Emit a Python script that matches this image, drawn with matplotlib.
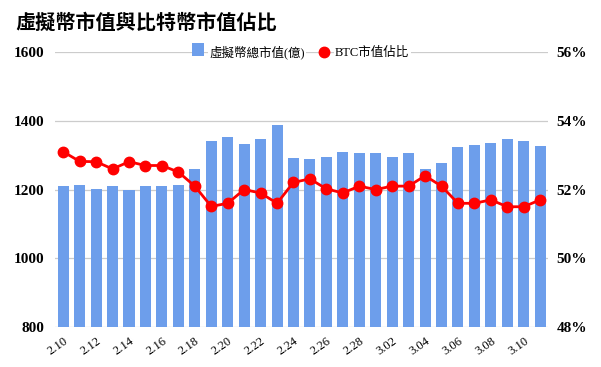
import numpy as np
import matplotlib.pyplot as plt

plt.rcParams['font.family'] = ['Noto Sans CJK TC', 'DejaVu Sans']

dates = ['2.10', '2.11', '2.12', '2.13', '2.14', '2.15', '2.16', '2.17', '2.18', '2.19',
         '2.20', '2.21', '2.22', '2.23', '2.24', '2.25', '2.26', '2.27', '2.28', '3.01',
         '3.02', '3.03', '3.04', '3.05', '3.06', '3.07', '3.08', '3.09', '3.10', '3.11']
# 虛擬幣總市值(億)
total_cap = [1209, 1212, 1203, 1209, 1200, 1209, 1209, 1212, 1261, 1340,
             1352, 1334, 1346, 1387, 1293, 1290, 1296, 1310, 1305, 1305,
             1296, 1305, 1260, 1276, 1325, 1331, 1336, 1348, 1340, 1328]
# BTC市值佔比 (%)
btc_share = [53.1, 52.82, 52.81, 52.6, 52.81, 52.7, 52.7, 52.51, 52.1, 51.51,
             51.6, 52.0, 51.9, 51.6, 52.21, 52.31, 52.02, 51.9, 52.1, 52.0,
             52.1, 52.1, 52.4, 52.1, 51.6, 51.6, 51.7, 51.5, 51.5, 51.7]

x = np.arange(len(dates))

fig = plt.figure(figsize=(6.01, 3.67), dpi=100)
ax = fig.add_axes([0.0915, 0.109, 0.821, 0.749])
ax2 = ax.twinx()

ax.set_zorder(1)
ax2.set_zorder(2)
ax.patch.set_visible(False)

bars = ax.bar(x, total_cap, width=0.67, color='#6d9eeb', zorder=2, label='虛擬幣總市值(億)')
line, = ax2.plot(x, btc_share, color='#ff0000', lw=2, marker='o', markersize=7.5,
                 label='BTC市值佔比')

ax.set_ylim(800, 1600)
ax.set_yticks([800, 1000, 1200, 1400, 1600])
ax2.set_ylim(48, 56)
ax2.set_yticks([48, 50, 52, 54, 56])
ax2.set_yticklabels([f'{v}%' for v in [48, 50, 52, 54, 56]])
ax.set_xlim(-0.5, len(dates) - 0.5)

ax.grid(axis='y', color='#cccccc', lw=0.9, zorder=0)
ax.set_axisbelow(True)
for a in (ax, ax2):
    for s in a.spines.values():
        s.set_visible(False)
    a.tick_params(length=0)

ax.set_xticks(x[::2])
ax.set_xticklabels(dates[::2], rotation=35, ha='right', rotation_mode='anchor',
                   family='Liberation Serif', fontsize=9)
ax.tick_params(axis='x', pad=6)
for t in ax.get_yticklabels() + ax2.get_yticklabels():
    t.set_family('Liberation Serif')
    t.set_fontweight('bold')
    t.set_fontsize(11)
ax.tick_params(axis='y', pad=8)
ax2.tick_params(axis='y', pad=6)

leg = fig.legend(handles=[bars, line], loc='center', bbox_to_anchor=(0.5, 0.858),
                 ncol=2, frameon=False, handlelength=1.0,
                 handletextpad=0.4, columnspacing=1.0,
                 prop={'family': ['Liberation Serif', 'Noto Sans CJK TC'], 'size': 9})
leg.legend_handles[0].set_height(9)
leg.legend_handles[1].set_linestyle('none')
for t in leg.get_texts():
    t.set_bbox(dict(facecolor='white', edgecolor='none', pad=1))

fig.text(0.025, 0.94, '虛擬幣市值與比特幣市值佔比', fontsize=14.5, fontweight='bold',
         va='center', ha='left')

fig.savefig('out.png', dpi=100)
